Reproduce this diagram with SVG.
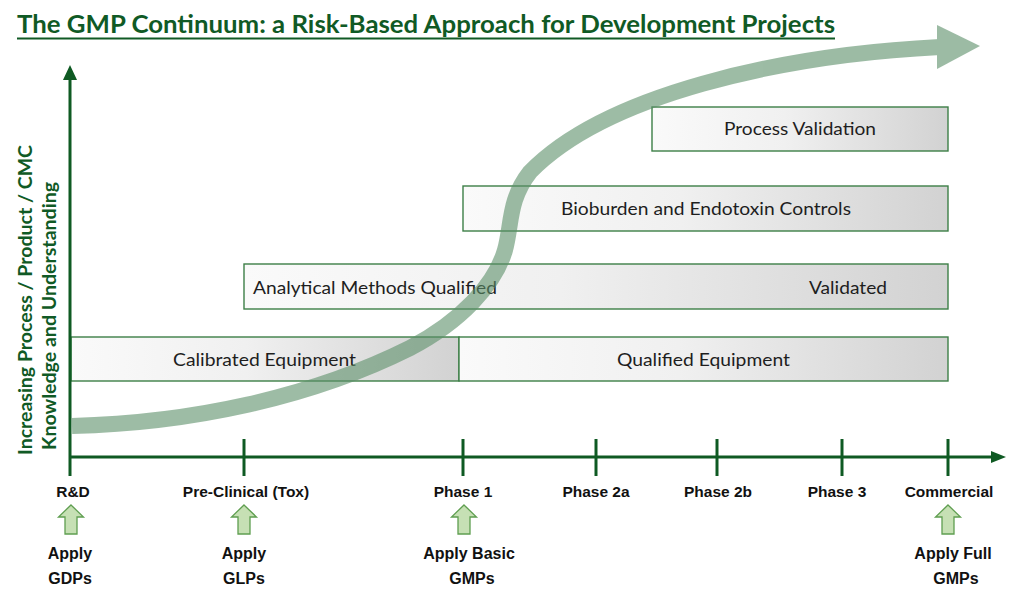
<svg xmlns="http://www.w3.org/2000/svg" width="1024" height="597" viewBox="0 0 1024 597">
<defs>
<linearGradient id="boxfill" x1="0" y1="0" x2="1" y2="0">
<stop offset="0" stop-color="#fafafa"/>
<stop offset="0.45" stop-color="#f0f0f0"/>
<stop offset="1" stop-color="#d2d2d2"/>
</linearGradient>
<style>
.title{font-family:Lato,"Liberation Sans",sans-serif;font-weight:bold;font-size:25px;fill:#105a25}
.ylab{font-family:Lato,"Liberation Sans",sans-serif;font-weight:bold;font-size:19px;fill:#105a25}
.box{fill:url(#boxfill);stroke:#3d7f47;stroke-width:1.4}
.btxt{font-family:Lato,"Open Sans",sans-serif;font-size:17.5px;fill:#1e1e1e}
.axis{stroke:#0f5a23;stroke-width:3;fill:none}
.ahead{fill:#0f5a23}
.stage{font-family:"Liberation Sans",Arial,sans-serif;font-weight:bold;font-size:15.5px;fill:#111;text-anchor:middle}
.apply{font-family:"Liberation Sans",Arial,sans-serif;font-weight:bold;font-size:16px;fill:#111;text-anchor:middle}
.uparrow{fill:#c6e0b4;stroke:#5f9e50;stroke-width:1.3}
</style>
</defs>
<rect width="1024" height="597" fill="#ffffff"/>

<g id="title">
<text class="title" x="17" y="33" textLength="818" lengthAdjust="spacingAndGlyphs">The GMP Continuum: a Risk-Based Approach for Development Projects</text>
<line x1="17" y1="38.5" x2="835" y2="38.5" stroke="#105a25" stroke-width="2"/>
</g>

<g id="y-axis-label">
<text class="ylab" transform="translate(32,455) rotate(-90)" textLength="310" lengthAdjust="spacingAndGlyphs">Increasing Process / Product / CMC</text>
<text class="ylab" transform="translate(56,450) rotate(-90)" textLength="268" lengthAdjust="spacingAndGlyphs">Knowledge and Understanding</text>
</g>

<g id="node-process-validation">
<rect class="box" x="652" y="107" width="296" height="44"/>
<text class="btxt" x="724" y="135" textLength="152" lengthAdjust="spacingAndGlyphs">Process Validation</text>
</g>
<g id="node-bioburden">
<rect class="box" x="463" y="186" width="485" height="45"/>
<text class="btxt" x="561" y="215" textLength="290" lengthAdjust="spacingAndGlyphs">Bioburden and Endotoxin Controls</text>
</g>
<g id="node-analytical">
<rect class="box" x="244" y="264" width="704" height="45"/>
<text class="btxt" x="253" y="294" textLength="244" lengthAdjust="spacingAndGlyphs">Analytical Methods Qualified</text>
<text class="btxt" x="809" y="294" textLength="78" lengthAdjust="spacingAndGlyphs">Validated</text>
</g>
<g id="node-calibrated">
<rect class="box" x="71" y="337" width="388" height="44"/>
<text class="btxt" x="173" y="366" textLength="183" lengthAdjust="spacingAndGlyphs">Calibrated Equipment</text>
</g>
<g id="node-qualified">
<rect class="box" x="459" y="337" width="489" height="44"/>
<text class="btxt" x="617" y="366" textLength="173" lengthAdjust="spacingAndGlyphs">Qualified Equipment</text>
</g>

<g id="axes">
<line class="axis" x1="70" y1="78" x2="70" y2="476"/>
<polygon class="ahead" points="70,65 77,80 63,80"/>
<line class="axis" x1="70" y1="457" x2="993" y2="457"/>
<polygon class="ahead" points="1006,457 991,451 991,463"/>
<line class="axis" x1="244" y1="439" x2="244" y2="476"/>
<line class="axis" x1="463" y1="439" x2="463" y2="476"/>
<line class="axis" x1="596" y1="439" x2="596" y2="476"/>
<line class="axis" x1="717" y1="439" x2="717" y2="476"/>
<line class="axis" x1="842" y1="439" x2="842" y2="476"/>
<line class="axis" x1="948" y1="439" x2="948" y2="476"/>
</g>

<g id="connectors">
<g id="trend-arrow" opacity="0.6">
<path d="M72 426 C190 423 310 398 410 348 C460 322 495 285 505 250 C512 225 508 200 530 172 C605 95 780 55 940 47" fill="none" stroke="#5b8f69" stroke-width="16"/>
<polygon points="980,46 937,25 937,69" fill="#5b8f69"/>
</g>
</g>

<g id="stage-rd">
<text class="stage" x="73" y="497">R&amp;D</text>
<polygon class="uparrow" points="71,505 83.5,517 77,517 77,534 65,534 65,517 58.5,517"/>
<text class="apply" x="70" y="559">Apply</text>
<text class="apply" x="70" y="584">GDPs</text>
</g>
<g id="stage-preclinical">
<text class="stage" x="246" y="497">Pre-Clinical (Tox)</text>
<polygon class="uparrow" points="244,505 256.5,517 250,517 250,534 238,534 238,517 231.5,517"/>
<text class="apply" x="244" y="559">Apply</text>
<text class="apply" x="244" y="584">GLPs</text>
</g>
<g id="stage-phase1">
<text class="stage" x="463" y="497">Phase 1</text>
<polygon class="uparrow" points="464,505 476.5,517 470,517 470,534 458,534 458,517 451.5,517"/>
<text class="apply" x="469" y="559">Apply Basic</text>
<text class="apply" x="472" y="584">GMPs</text>
</g>
<g id="stage-phase2a">
<text class="stage" x="596" y="497">Phase 2a</text>
</g>
<g id="stage-phase2b">
<text class="stage" x="718" y="497">Phase 2b</text>
</g>
<g id="stage-phase3">
<text class="stage" x="837" y="497">Phase 3</text>
</g>
<g id="stage-commercial">
<text class="stage" x="949" y="497">Commercial</text>
<polygon class="uparrow" points="948,505 960.5,517 954,517 954,534 942,534 942,517 935.5,517"/>
<text class="apply" x="953" y="559">Apply Full</text>
<text class="apply" x="956" y="584">GMPs</text>
</g>
</svg>
